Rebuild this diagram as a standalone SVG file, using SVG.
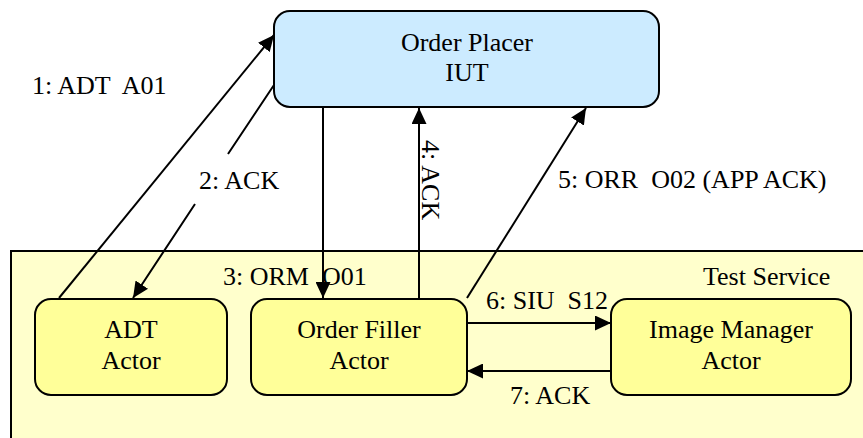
<svg xmlns="http://www.w3.org/2000/svg" width="863" height="438" viewBox="0 0 863 438">
  <style>
    .t { font-family: 'Liberation Serif', 'Times New Roman', serif; font-size: 26px; fill: #000; white-space: pre; }
    .mid { text-anchor: middle; }
    .box { stroke: #000; stroke-width: 2; }
    .placer { fill: #CCEBFF; }
    .actor { fill: #FFFF99; }
    .service { fill: #FFFFCC; stroke: #000; stroke-width: 2; }
    .conn { fill: none; stroke: #000; stroke-width: 2; marker-end: url(#arrow); }
  </style>
  <defs>
    <marker id="arrow" markerUnits="userSpaceOnUse" markerWidth="16" markerHeight="15" refX="16" refY="7.5" orient="auto">
      <path d="M0,0 L16,7.5 L0,15 z" fill="#000"/>
    </marker>
  </defs>

  <rect width="863" height="438" fill="#fff"/>

  <!-- Test Service container -->
  <g id="test-service">
    <rect class="service" x="11" y="251" width="880" height="210"/>
    <text class="t" x="703" y="285">Test Service</text>
  </g>

  <!-- Order Placer (IUT) -->
  <g id="order-placer">
    <rect class="box placer" x="274" y="11" width="385" height="96" rx="16"/>
    <text class="t mid" x="467" y="51">Order Placer</text>
    <text class="t mid" x="467" y="81">IUT</text>
  </g>

  <g id="adt-actor">
    <rect class="box actor" x="35" y="299" width="192" height="96" rx="16"/>
    <text class="t mid" x="131" y="338">ADT</text>
    <text class="t mid" x="131" y="369">Actor</text>
  </g>

  <g id="order-filler">
    <rect class="box actor" x="251" y="299" width="216" height="96" rx="16"/>
    <text class="t mid" x="359" y="338">Order Filler</text>
    <text class="t mid" x="359" y="369">Actor</text>
  </g>

  <g id="image-manager">
    <rect class="box actor" x="611" y="299" width="240" height="96" rx="16"/>
    <text class="t mid" x="731" y="338">Image Manager</text>
    <text class="t mid" x="731" y="369">Actor</text>
  </g>

  <!-- Message flow -->
  <g id="connectors">
    <path class="conn" d="M59,298 L274,35"/>
    <path class="conn" d="M274,85 L228,154 M195,204 L133,298"/>
    <path class="conn" d="M323,107 L323,298"/>
    <path class="conn" d="M419,298 L419,108"/>
    <path class="conn" d="M467,298 L586,108"/>
    <path class="conn" d="M467,323 L611,323"/>
    <path class="conn" d="M611,371 L467,371"/>

    <text class="t" x="32" y="94">1: ADT  A01</text>
    <text class="t" x="199" y="189">2: ACK</text>
    <text class="t" x="223" y="285">3: ORM  O01</text>
    <text class="t" transform="translate(422,140) rotate(90)">4: ACK</text>
    <text class="t" x="558" y="188">5: ORR  O02 (APP ACK)</text>
    <text class="t" x="486" y="309">6: SIU  S12</text>
    <text class="t" x="510" y="404">7: ACK</text>
  </g>
</svg>
